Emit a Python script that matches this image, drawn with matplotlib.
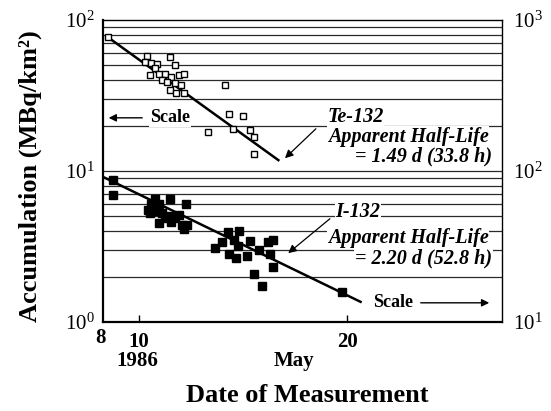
import matplotlib
matplotlib.use("Agg")
import matplotlib.pyplot as plt
from matplotlib.ticker import NullFormatter, FixedLocator

plt.rcParams['font.family'] = ['Liberation Serif', 'DejaVu Serif']
plt.rcParams['mathtext.fontset'] = 'custom'
plt.rcParams['mathtext.rm'] = 'Liberation Serif'

# Te-132 (left scale, MBq/km^2)
te_days = [8.5, 10.4, 11.5, 10.3, 10.6, 10.85, 11.75, 10.75, 10.55, 10.95,
           11.25, 11.55, 11.9, 12.15, 11.1, 11.35, 11.75, 12.0, 11.5, 11.8,
           12.15, 14.15, 14.35, 15.0, 13.3, 14.5, 15.35, 15.55, 15.55]
te_vals = [77, 58, 57, 53, 52, 51.5, 50, 48, 43, 44,
           44, 42, 43, 44, 40, 39, 38, 37, 34.5, 33,
           33, 37, 24, 23, 18.2, 19, 18.7, 16.7, 13]
te_fit_days = [8.5, 16.7]
te_fit_vals = [77, 11.8]

# I-132 (right scale, MBq/km^2)
i_days = [8.75, 8.75, 10.75, 11.5, 12.25, 10.45, 10.6, 10.95, 10.7, 11.1,
          10.55, 11.25, 11.5, 11.75, 11.9, 10.95, 11.55, 12.05, 12.3, 12.15,
          14.3, 14.8, 14.0, 14.55, 14.75, 15.35, 13.65, 15.75, 16.2, 16.45,
          14.35, 14.65, 15.2, 16.3, 16.45, 15.55, 15.9, 19.75]
i_vals = [87, 69, 65, 65, 60, 55, 60, 60, 54, 52.5,
          52.5, 48.5, 50, 48.5, 51, 45.5, 46, 44, 44, 41.5,
          39.5, 40, 34, 35, 32, 34.5, 31, 30, 34, 35,
          28, 26.7, 27.5, 28.2, 23, 20.7, 17.3, 15.9]
i_fit_days = [8.25, 20.65]
i_fit_vals = [91.7, 13.6]

x_ticks = [10, 20]
x_ticklabels = ['10', '20']
left_ticks = [1, 10, 100]
left_ticklabels = [r'$\mathregular{10^{0}}$', r'$\mathregular{10^{1}}$', r'$\mathregular{10^{2}}$']
right_ticks = [10, 100, 1000]
right_ticklabels = [r'$\mathregular{10^{1}}$', r'$\mathregular{10^{2}}$', r'$\mathregular{10^{3}}$']

W, H = 551, 411
fig = plt.figure(figsize=(W / 100, H / 100), dpi=100)
ax = fig.add_axes([103 / W, 1 - 322 / H, (502 - 103) / W, (322 - 20) / H])
ax.set_xlim(8.27, 27.45)
ax.set_yscale('log')
ax.set_ylim(1, 100)

# horizontal rules at every decade and sub-decade
for dec in [1, 10]:
    for k in range(1, 10):
        ax.axhline(dec * k, color='#2a2a2a', lw=0.9, zorder=1)

ax.set_xticks(x_ticks)
ax.set_xticklabels(x_ticklabels, fontsize=15, fontweight='bold')
ax.tick_params(axis='x', direction='in', length=5, width=1, pad=7)
ax.yaxis.set_major_locator(FixedLocator(left_ticks))
ax.set_yticklabels(left_ticklabels, fontsize=15)
ax.yaxis.set_minor_formatter(NullFormatter())
ax.tick_params(axis='y', which='both', length=0, pad=6)

for s in ['left', 'bottom']:
    ax.spines[s].set_linewidth(1.6)
for s in ['top', 'right']:
    ax.spines[s].set_linewidth(1.0)

ax2 = ax.twinx()
ax2.set_yscale('log')
ax2.set_ylim(10, 1000)
ax2.yaxis.set_major_locator(FixedLocator(right_ticks))
ax2.set_yticklabels(right_ticklabels, fontsize=15)
ax2.yaxis.set_minor_formatter(NullFormatter())
ax2.tick_params(axis='y', which='both', length=0, pad=8)
for s in ax2.spines.values():
    s.set_visible(False)

# Te-132: open squares
ax.plot(te_fit_days, te_fit_vals, color='black', lw=1.8, zorder=3)
ax.plot(te_days, te_vals, ls='none', marker='s', ms=5, mfc='white',
        mec='black', mew=1.0, zorder=4)

# I-132: filled squares
ax2.plot(i_fit_days, i_fit_vals, color='black', lw=1.8, zorder=3)
ax2.plot(i_days, i_vals, ls='none', marker='s', ms=5.5, mfc='black',
         mec='black', zorder=4)

bbox = dict(facecolor='white', edgecolor='none', pad=0.5)
tfont = dict(fontsize=14.5, fontweight='bold', style='italic')

ax.text(19.05, 22.8, 'Te-132', ha='left', va='center', bbox=bbox, **tfont)
ax.text(19.09, 16.8, 'Apparent Half-Life', ha='left', va='center', bbox=bbox, **tfont)
ax.text(26.97, 12.4, '= 1.49 d (33.8 h)', ha='right', va='center', bbox=bbox, **tfont)
ax.annotate('', xy=(16.92, 11.8), xytext=(18.6, 19.6),
            arrowprops=dict(arrowstyle='-|>', color='black', lw=0.9,
                            mutation_scale=12))

ax2.text(19.45, 53.5, 'I-132', ha='left', va='center', bbox=bbox, **tfont)
ax2.text(19.09, 36.0, 'Apparent Half-Life', ha='left', va='center', bbox=bbox, **tfont)
ax2.text(26.97, 26.5, '= 2.20 d (52.8 h)', ha='right', va='center', bbox=bbox, **tfont)
ax2.annotate('', xy=(17.07, 27.8), xytext=(19.28, 49.6),
             arrowprops=dict(arrowstyle='-|>', color='black', lw=0.9,
                             mutation_scale=12))

# scale indicators
ax.text(10.53, 22.5, 'Scale', ha='left', va='center', fontsize=13,
        fontweight='bold', bbox=bbox)
ax.annotate('', xy=(8.41, 22.5), xytext=(10.29, 22.5),
            arrowprops=dict(arrowstyle='-|>', color='black', lw=1.0,
                            mutation_scale=11))
ax2.text(21.25, 13.4, 'Scale', ha='left', va='center', fontsize=13,
         fontweight='bold', bbox=bbox)
ax2.annotate('', xy=(26.97, 13.4), xytext=(23.41, 13.4),
             arrowprops=dict(arrowstyle='-|>', color='black', lw=1.0,
                             mutation_scale=11))

# axis labels
fig.text(100 / W, 1 - 338 / H, '8', ha='center', va='center', fontsize=15, fontweight='bold')
fig.text(137 / W, 1 - 361 / H, '1986', ha='center', va='center', fontsize=15, fontweight='bold')
fig.text(294 / W, 1 - 361 / H, 'May', ha='center', va='center', fontsize=15, fontweight='bold')
fig.text(307 / W, 1 - 395 / H, 'Date of Measurement', ha='center', va='center',
         fontsize=19, fontweight='bold')
fig.text(30 / W, 1 - 176 / H, 'Accumulation (MBq/km²)', ha='center', va='center',
         rotation=90, fontsize=19, fontweight='bold')

fig.savefig('out.png', dpi=100)
